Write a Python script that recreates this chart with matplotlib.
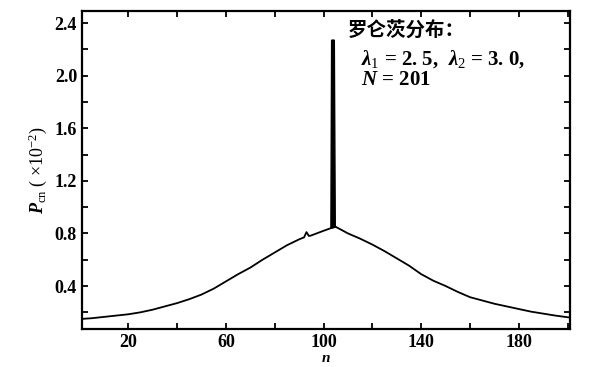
import matplotlib.pyplot as plt
import numpy as np

# curve (n, P_cn in units of 1e-2)
n_vals = [1, 5, 10, 15, 20, 25, 30, 35, 40, 45, 50, 55, 60, 65, 70, 75, 80,
          85, 90, 92, 93, 94, 95, 100, 103, 105, 110, 115, 120, 125, 130, 135,
          140, 145, 150, 155, 160, 165, 170, 175, 180, 185, 190, 195, 201]
p_vals = [0.15, 0.155, 0.165, 0.175, 0.185, 0.2, 0.22, 0.245, 0.27, 0.3, 0.335,
          0.38, 0.435, 0.49, 0.54, 0.6, 0.655, 0.71, 0.755, 0.77, 0.81, 0.78,
          0.785, 0.82, 0.84, 0.85, 0.8, 0.76, 0.715, 0.665, 0.61, 0.555, 0.49,
          0.44, 0.4, 0.355, 0.315, 0.29, 0.265, 0.245, 0.225, 0.205, 0.19,
          0.175, 0.16]

# the sharp spike near the centre
spike_n = [103.0, 103.3, 104.4, 104.8]
spike_p = [0.84, 2.27, 2.27, 0.85]

x_ticks = [20, 60, 100, 140, 180]
y_ticks = [0.4, 0.8, 1.2, 1.6, 2.0, 2.4]

plt.rcParams['font.family'] = ['Liberation Serif', 'Noto Sans CJK SC']
plt.rcParams['mathtext.fontset'] = 'custom'
plt.rcParams['mathtext.rm'] = 'Liberation Serif'
plt.rcParams['mathtext.it'] = 'Liberation Serif:italic:bold'
plt.rcParams['mathtext.bf'] = 'Liberation Serif:bold'

fig = plt.figure(figsize=(5.89, 3.67), dpi=100)
ax = fig.add_axes([0.139, 0.1035, 0.829, 0.866])

ax.plot(n_vals, p_vals, color='black', lw=1.3)
ax.fill(spike_n, spike_p, color='black', lw=1.0)

ax.set_xlim(1, 201)
ax.set_ylim(0.073, 2.49)
ax.set_xticks(x_ticks)
ax.set_xticks(np.arange(20, 201, 20), minor=True)
ax.set_yticks(y_ticks)
ax.set_yticks(np.arange(0.2, 2.5, 0.2), minor=True)
ax.set_xticklabels([str(v) for v in x_ticks], fontsize=13, fontweight='bold')
ax.set_yticklabels([f'{v:.1f}' for v in y_ticks], fontsize=13, fontweight='bold')
ax.tick_params(which='both', direction='in', top=True, right=True, length=4, width=1.3)
for s in ax.spines.values():
    s.set_linewidth(1.6)

ax.set_xlabel('$n$', fontsize=11, labelpad=1)
ax.set_ylabel(r'$P_{\rm cn}$ ( ×10$^{-2}$)', fontsize=13, labelpad=4)

ax.text(0.545, 0.97, '罗仑茨分布：', transform=ax.transAxes, fontsize=14,
        fontweight='bold', family=['Noto Sans CJK SC'], va='top')
ax.text(0.572, 0.885, r'$\lambda_1$ = 2. 5,  $\lambda_2$ = 3. 0,',
        transform=ax.transAxes, fontsize=15, fontweight='bold', va='top')
ax.text(0.572, 0.815, r'$N$ = 201', transform=ax.transAxes,
        fontsize=15, fontweight='bold', va='top')

fig.savefig('out.png', dpi=100)
